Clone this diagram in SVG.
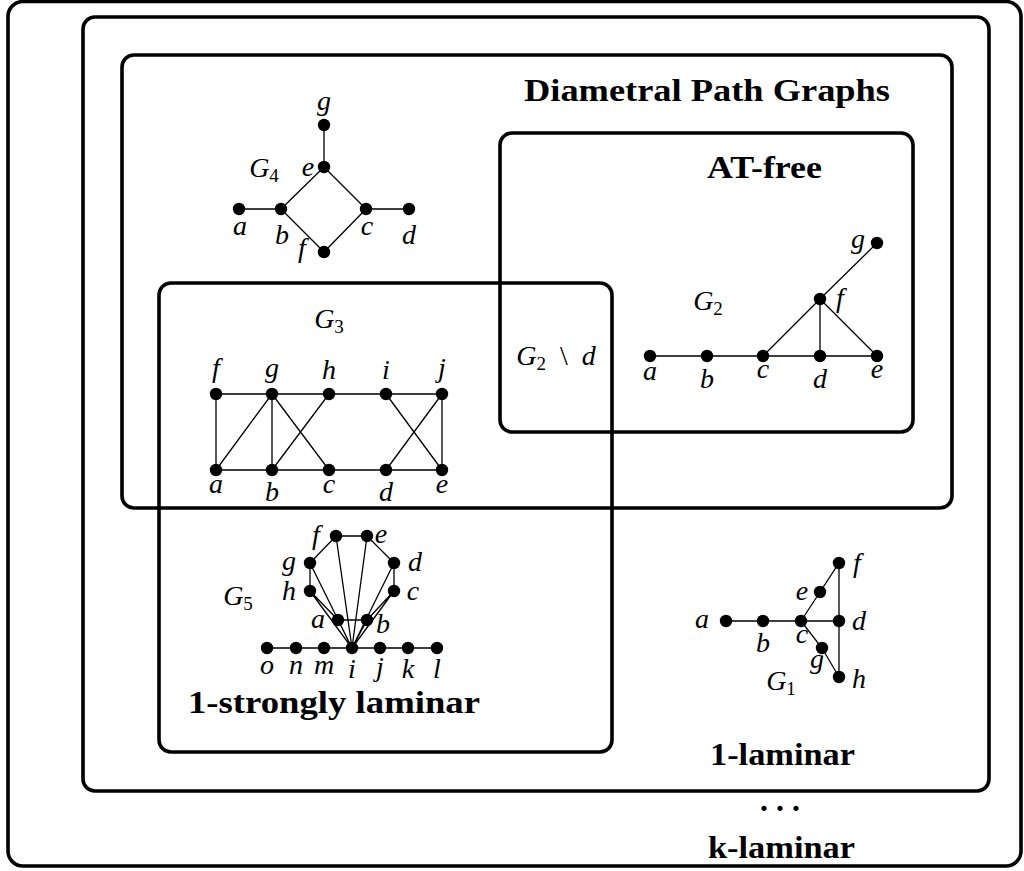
<svg xmlns="http://www.w3.org/2000/svg" width="1024" height="871" viewBox="0 0 1024 871">
<style>
.box{fill:none;stroke:#000;stroke-width:3.6}
.e{stroke:#000;stroke-width:1.3;fill:none}
.n{fill:#000}
.m{font-family:"Liberation Serif",serif;font-style:italic;font-size:28px;text-anchor:middle;fill:#000}
.sub{font-style:normal;font-size:19px}
.t{font-family:"Liberation Serif",serif;font-weight:bold;font-size:32px;fill:#000}
</style>
<rect width="1024" height="871" fill="#fff"/>
<g id="box-k-laminar"><rect class="box" x="8" y="1.5" width="1013" height="864.5" rx="15"/>
<text class="t" x="708" y="858" textLength="147" lengthAdjust="spacingAndGlyphs">k-laminar</text>
<text class="t" x="780" y="811" text-anchor="middle" font-weight="normal">. . .</text></g>
<g id="box-1-laminar"><rect class="box" x="83" y="17" width="906" height="774" rx="12"/>
<text class="t" x="710" y="765" textLength="145" lengthAdjust="spacingAndGlyphs">1-laminar</text></g>
<g id="box-diametral"><rect class="box" x="122" y="55" width="830" height="453" rx="12"/>
<text class="t" x="524" y="101" textLength="366" lengthAdjust="spacingAndGlyphs">Diametral Path Graphs</text></g>
<g id="box-at-free"><rect class="box" x="500" y="133" width="413" height="299" rx="12"/>
<text class="t" x="707" y="178" textLength="115" lengthAdjust="spacingAndGlyphs">AT-free</text></g>
<g id="box-strongly"><rect class="box" x="159" y="283" width="453" height="469" rx="12"/>
<text class="t" x="188" y="713" textLength="292" lengthAdjust="spacingAndGlyphs">1-strongly laminar</text></g>
<text class="m" x="556" y="365">G<tspan class="sub" dy="5">2</tspan><tspan dy="-5" font-style="normal">&#160;&#160;\&#160;&#160;</tspan>d</text>

<g id="connectors">
<path class="e" d="M324 125L324 167M324 167L281 209M324 167L366 209M239 209L281 209M281 209L324 252L366 209M366 209L409 209"/>
<path class="e" d="M650 356L877 356M763 356L820 299L877 356M820 299L820 356M820 299L877 243"/>
<path class="e" d="M216 394L442 394M216 470L442 470M216 394L216 470M272 394L216 470M272 394L272 470M272 394L329 470M329 394L272 470M386 394L442 470M442 394L386 470M442 394L442 470"/>
<path class="e" d="M336 536L367 536M336 536L310 563L310 591M367 536L394 563L394 591M338 620L367 620M267 648L437 648M352 648L336 536M352 648L367 536M352 648L310 563M352 648L310 591M310 591L338 620L352 648M352 648L394 563M352 648L394 591M394 591L367 620L352 648"/>
<path class="e" d="M726 621L839 621M801 621L820 592L839 563L839 677M801 621L822 648L839 677"/>
</g>

<g id="G4">
<g class="n"><circle cx="324" cy="125" r="6.2"/><circle cx="324" cy="167" r="6.2"/><circle cx="239" cy="209" r="6.2"/><circle cx="281" cy="209" r="6.2"/><circle cx="366" cy="209" r="6.2"/><circle cx="409" cy="209" r="6.2"/><circle cx="324" cy="252" r="6.2"/></g>
<text class="m" x="324" y="110">g</text><text class="m" x="308" y="176">e</text>
<text class="m" x="264" y="177">G<tspan class="sub" dy="5">4</tspan></text>
<text class="m" x="240" y="235">a</text><text class="m" x="282" y="244">b</text><text class="m" x="367" y="235">c</text><text class="m" x="409" y="244">d</text><text class="m" x="302" y="257">f</text>
</g>

<g id="G2">
<g class="n"><circle cx="650" cy="356" r="6.2"/><circle cx="707" cy="356" r="6.2"/><circle cx="763" cy="356" r="6.2"/><circle cx="820" cy="356" r="6.2"/><circle cx="877" cy="356" r="6.2"/><circle cx="820" cy="299" r="6.2"/><circle cx="877" cy="243" r="6.2"/></g>
<text class="m" x="650" y="380">a</text><text class="m" x="707" y="388">b</text><text class="m" x="763" y="378">c</text><text class="m" x="820" y="388">d</text><text class="m" x="877" y="378">e</text>
<text class="m" x="840" y="307">f</text><text class="m" x="858" y="248">g</text>
<text class="m" x="708" y="310">G<tspan class="sub" dy="5">2</tspan></text>
</g>

<g id="G3">
<g class="n"><circle cx="216" cy="394" r="6.2"/><circle cx="272" cy="394" r="6.2"/><circle cx="329" cy="394" r="6.2"/><circle cx="386" cy="394" r="6.2"/><circle cx="442" cy="394" r="6.2"/><circle cx="216" cy="470" r="6.2"/><circle cx="272" cy="470" r="6.2"/><circle cx="329" cy="470" r="6.2"/><circle cx="386" cy="470" r="6.2"/><circle cx="442" cy="470" r="6.2"/></g>
<text class="m" x="216" y="377">f</text><text class="m" x="272" y="377">g</text><text class="m" x="329" y="379">h</text><text class="m" x="386" y="379">i</text><text class="m" x="442" y="377">j</text>
<text class="m" x="216" y="493">a</text><text class="m" x="272" y="501">b</text><text class="m" x="329" y="493">c</text><text class="m" x="386" y="501">d</text><text class="m" x="442" y="493">e</text>
<text class="m" x="329" y="328">G<tspan class="sub" dy="5">3</tspan></text>
</g>

<g id="G5">
<g class="n"><circle cx="336" cy="536" r="6.2"/><circle cx="367" cy="536" r="6.2"/><circle cx="310" cy="563" r="6.2"/><circle cx="394" cy="563" r="6.2"/><circle cx="310" cy="591" r="6.2"/><circle cx="394" cy="591" r="6.2"/><circle cx="338" cy="620" r="6.2"/><circle cx="367" cy="620" r="6.2"/><circle cx="267" cy="648" r="6.2"/><circle cx="296" cy="648" r="6.2"/><circle cx="324" cy="648" r="6.2"/><circle cx="352" cy="648" r="6.2"/><circle cx="380" cy="648" r="6.2"/><circle cx="408" cy="648" r="6.2"/><circle cx="437" cy="648" r="6.2"/></g>
<text class="m" x="316" y="544">f</text><text class="m" x="381" y="543">e</text><text class="m" x="289" y="570">g</text><text class="m" x="415" y="571">d</text><text class="m" x="413" y="600">c</text><text class="m" x="289" y="600">h</text><text class="m" x="318" y="628">a</text><text class="m" x="383" y="633">b</text>
<text class="m" x="267" y="674">o</text><text class="m" x="296" y="674">n</text><text class="m" x="324" y="674">m</text><text class="m" x="352" y="678">i</text><text class="m" x="380" y="676">j</text><text class="m" x="408" y="678">k</text><text class="m" x="437" y="678">l</text>
<text class="m" x="238" y="605">G<tspan class="sub" dy="5">5</tspan></text>
</g>

<g id="G1">
<g class="n"><circle cx="726" cy="621" r="6.2"/><circle cx="763" cy="621" r="6.2"/><circle cx="801" cy="621" r="6.2"/><circle cx="839" cy="621" r="6.2"/><circle cx="839" cy="563" r="6.2"/><circle cx="820" cy="592" r="6.2"/><circle cx="822" cy="648" r="6.2"/><circle cx="839" cy="677" r="6.2"/></g>
<text class="m" x="702" y="628">a</text><text class="m" x="763" y="652">b</text><text class="m" x="802" y="643">c</text><text class="m" x="859" y="630">d</text><text class="m" x="802" y="600">e</text><text class="m" x="857" y="572">f</text><text class="m" x="817" y="668">g</text><text class="m" x="859" y="688">h</text>
<text class="m" x="781" y="690">G<tspan class="sub" dy="5">1</tspan></text>
</g>
</svg>
